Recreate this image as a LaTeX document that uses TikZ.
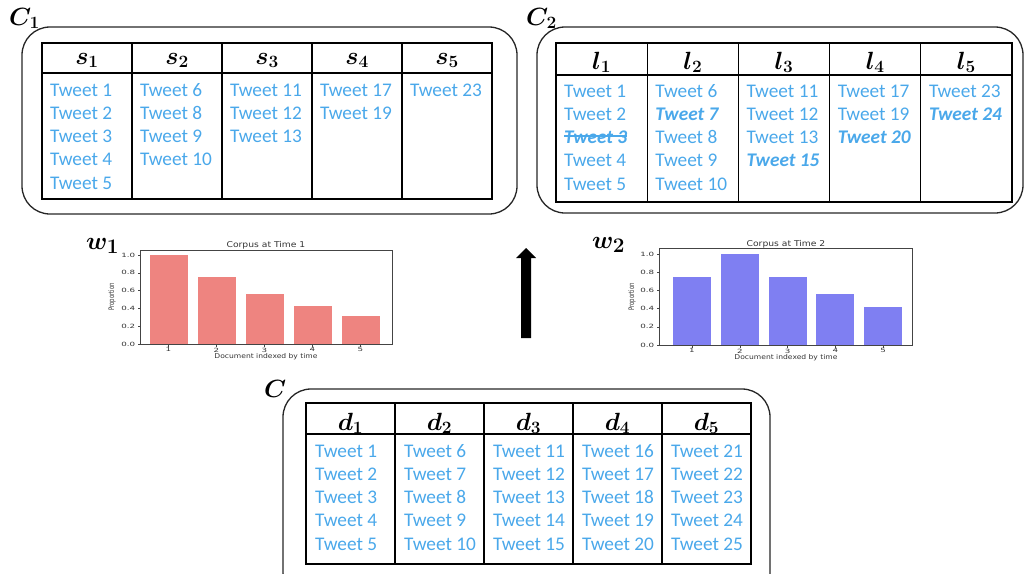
\documentclass[tikz,border=0pt]{standalone}
\usepackage{fontspec}
\newfontfamily\tweetfont{Carlito}
\newfontfamily\plotfont{DejaVu Sans}
\definecolor{tweetblue}{HTML}{4AA8EA}
\definecolor{barred}{HTML}{EE8480}
\definecolor{barblue}{HTML}{7F7FF2}
\definecolor{axisgray}{HTML}{444444}
\definecolor{plottext}{HTML}{333333}

% grid of one tweet table: left, top, header rule, bottom, column width
\newcommand\tweetgrid[5]{%
  \draw[gridline] (#1,#2) rectangle ({#1+5*#5},#4);
  \draw[headrule] (#1,#3) -- ({#1+5*#5},#3);
  \foreach \k in {1,...,4}
    \draw[gridline] ({#1+\k*#5},#2) -- ({#1+\k*#5},#4);
}

\begin{document}
\begin{tikzpicture}[x=1pt,y=-1pt,
  frame/.style={draw=black!85,line width=1.3pt,rounded corners=28pt},
  gridline/.style={draw=black,line width=1.1pt},
  headrule/.style={draw=black,line width=2.4pt},
  tweet/.style={text=tweetblue,font=\tweetfont\fontsize{19.3}{19.3}\selectfont,anchor=base west,inner sep=0pt},
  tn/.style={},
  tb/.style={font=\tweetfont\fontsize{19.3}{19.3}\selectfont\bfseries\itshape},
  strike/.style={draw=tweetblue,line width=1.3pt},
  colhead/.style={font=\fontsize{24}{24}\selectfont\boldmath,anchor=base,inner sep=0pt},
  setlabel/.style={font=\fontsize{24}{24}\selectfont\boldmath,anchor=base west,inner sep=0pt},
  wlabel/.style={font=\fontsize{29}{29}\selectfont\boldmath,anchor=base west,inner sep=0pt},
  axisframe/.style={draw=axisgray,line width=0.6pt},
  tick/.style={draw=axisgray,line width=0.5pt},
  ticklab/.style={font=\plotfont\fontsize{5.8}{5.8}\selectfont,text=plottext,inner sep=0pt,xscale=1.5},
  axislab/.style={font=\plotfont\fontsize{6.6}{6.6}\selectfont,text=plottext,inner sep=0pt,xscale=1.15},
  plottitle/.style={font=\plotfont\fontsize{8}{8}\selectfont,text=plottext,inner sep=0pt,xscale=1.15},
]
\useasboundingbox (0,0) rectangle (1025,573);
\clip (0,0) rectangle (1025,573);

% ---------------- C_1 : segments s_1..s_5 ----------------
\draw[frame] (22,27) rectangle (517,214);
\node[setlabel] (c1lab) at (9,25) {$C_1$};
\tweetgrid{42}{43}{73}{199}{90}
\foreach \c in {1,...,5}
  \node[colhead] (sh\c) at ({42+(\c-0.5)*90},64) {$s_{\c}$};
\foreach \c/\items in {1/{1,2,3,4,5},2/{6,8,9,10},3/{11,12,13},4/{17,19},5/{23}}
  \foreach \t [count=\r] in \items
    \node[tweet] (s\c-\r) at ({42+(\c-1)*90+8},{96+(\r-1)*23.3}) {Tweet \t};

% ---------------- C_2 : segments l_1..l_5 ----------------
\draw[frame] (537,27) rectangle (1023,213);
\node[setlabel] (c2lab) at (526,25) {$C_2$};
\tweetgrid{556}{43}{75}{202}{91.2}
\foreach \c in {1,...,5}
  \node[colhead] (lh\c) at ({556+(\c-0.5)*91.2},69) {$l_{\c}$};
\foreach \c/\items in {1/{1/tn,2/tn,3/tb,4/tn,5/tn},2/{6/tn,7/tb,8/tn,9/tn,10/tn},
                       3/{11/tn,12/tn,13/tn,15/tb},4/{17/tn,19/tn,20/tb},5/{23/tn,24/tb}}
  \foreach \t/\st [count=\r] in \items
    \node[tweet,\st] (l\c-\r) at ({556+(\c-1)*91.2+8},{97+(\r-1)*23.3}) {Tweet \t};
\draw[strike] ([yshift=1.5pt]l1-3.west) -- ([yshift=1.5pt]l1-3.east);

% ---------------- C : documents d_1..d_5 ----------------
\draw[frame] (283,389) rectangle (770,600);
\node[setlabel] (clab) at (264,397) {$C$};
\tweetgrid{306}{403}{434}{564}{89}
\foreach \c in {1,...,5}
  \node[colhead] (dh\c) at ({306+(\c-0.5)*89},430) {$d_{\c}$};
\foreach \c in {1,...,5}
  \foreach \r in {1,...,5}
    \node[tweet] (d\c-\r) at ({306+(\c-1)*89+9},{457+(\r-1)*23.3}) {Tweet \the\numexpr 5*(\c-1)+\r\relax};

% ---------------- w_1 : corpus at time 1 ----------------
\node[wlabel] (w1lab) at (86,249) {$w_1$};
\foreach \h [count=\i] in {1,0.75,0.5625,0.4219,0.3164}
  \fill[barred] ({168.5+(\i-1)*48-19},344) rectangle ({168.5+(\i-1)*48+19},{344-89*\h});
\draw[axisframe] (140,250) rectangle (392,344);
\foreach \v/\lab [count=\i] in {0/0.0,0.2/0.2,0.4/0.4,0.6/0.6,0.8/0.8,1/1.0}{
  \draw[tick] (140,{344-89*\v}) -- ++(-2.5,0);
  \node[ticklab,anchor=east] (wa-y\i) at (135.5,{344-89*\v}) {\lab};
}
\foreach \i in {1,...,5}{
  \draw[tick] ({168.5+(\i-1)*48},344) -- ++(0,2.5);
  \node[ticklab,anchor=north] (wa-x\i) at ({168.5+(\i-1)*48},347.5) {\i};
}
\node[plottitle,anchor=base] (wa-title) at (266,247.5) {Corpus at Time 1};
\node[axislab,anchor=north] (wa-xlab) at (266,353) {Document indexed by time};
\node[axislab,rotate=90,xscale=0.8,anchor=south] (wa-ylab) at (116,297) {Proportion};

% ---------------- w_2 : corpus at time 2 ----------------
\node[wlabel] (w2lab) at (592,248) {$w_2$};
\foreach \h [count=\i] in {0.75,1,0.75,0.5625,0.4219}
  \fill[barblue] ({692+(\i-1)*47.8-19},345) rectangle ({692+(\i-1)*47.8+19},{345-91*\h});
\draw[axisframe] (659,248) rectangle (912,345);
\foreach \v/\lab [count=\i] in {0/0.0,0.2/0.2,0.4/0.4,0.6/0.6,0.8/0.8,1/1.0}{
  \draw[tick] (659,{345-91*\v}) -- ++(-2.5,0);
  \node[ticklab,anchor=east] (wb-y\i) at (654.5,{345-91*\v}) {\lab};
}
\foreach \i in {1,...,5}{
  \draw[tick] ({692+(\i-1)*47.8},345) -- ++(0,2.5);
  \node[ticklab,anchor=north] (wb-x\i) at ({692+(\i-1)*47.8},348.5) {\i};
}
\node[plottitle,anchor=base] (wb-title) at (786,246) {Corpus at Time 2};
\node[axislab,anchor=north] (wb-xlab) at (786,354) {Document indexed by time};
\node[axislab,rotate=90,xscale=0.8,anchor=south] (wb-ylab) at (636,297) {Proportion};

% ---------------- block arrow between the two charts ----------------
\coordinate (arrowfoot) at (526,338);
\coordinate (arrowtip) at (526,248);
\fill[black] ([xshift=-5pt]arrowfoot) -- ([xshift=5pt]arrowfoot)
  -- ([xshift=5pt,yshift=-10pt]arrowtip) -- ([xshift=10pt,yshift=-10pt]arrowtip)
  -- (arrowtip) -- ([xshift=-10pt,yshift=-10pt]arrowtip)
  -- ([xshift=-5pt,yshift=-10pt]arrowtip) -- cycle;
\end{tikzpicture}
\end{document}
